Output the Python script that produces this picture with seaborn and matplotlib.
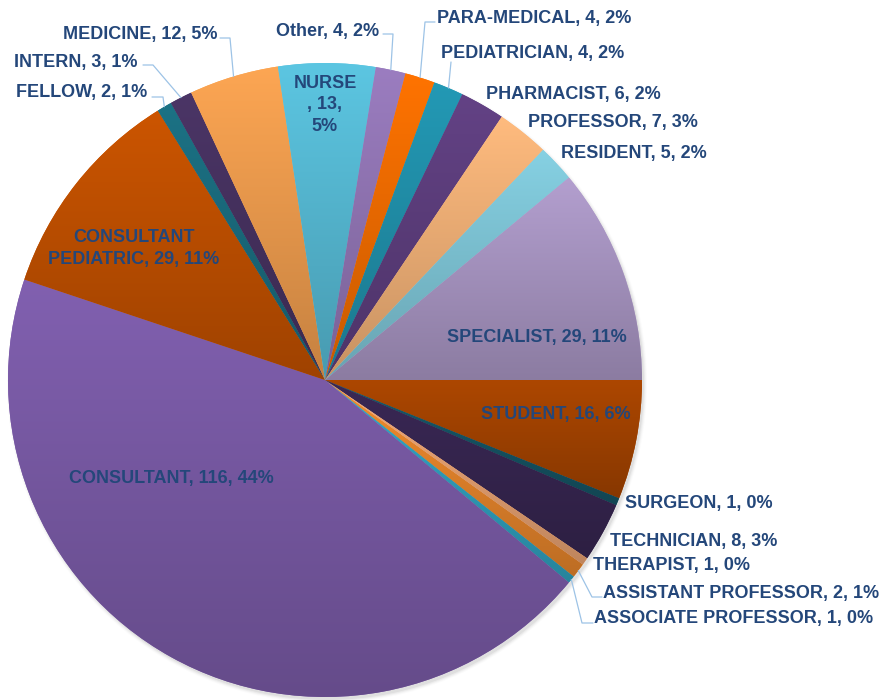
import numpy as np
import matplotlib
matplotlib.use("Agg")
import matplotlib.pyplot as plt
import matplotlib.colors as mcolors
from matplotlib.patches import Circle
import seaborn as sns

# data (clockwise, same order as the workbook)
categories = ["ASSISTANT PROFESSOR", "ASSOCIATE PROFESSOR", "CONSULTANT",
              "CONSULTANT PEDIATRIC", "FELLOW", "INTERN", "MEDICINE", "NURSE",
              "Other", "PARA-MEDICAL", "PEDIATRICIAN", "PHARMACIST", "PROFESSOR",
              "RESIDENT", "SPECIALIST", "STUDENT", "SURGEON", "TECHNICIAN",
              "THERAPIST"]
counts = [2, 1, 116, 29, 2, 3, 12, 13, 4, 4, 4, 6, 7, 5, 29, 16, 1, 8, 1]
slice_colors = ["#F28C2E", "#33A9C8", "#8160B0", "#CC5500", "#1C7285", "#4B3566",
                "#FDA653", "#5CC6E2", "#9B7DC0", "#FF7300", "#2399B5", "#634285",
                "#FFBB7E", "#86D1E3", "#B39FCF", "#AD4700", "#17596A", "#3A2855",
                "#F5AB78"]

# label placement in pixels (x, baseline y of the last line, alignment), y from the top
W, H = 886, 700
label_pos = {
    "ASSISTANT PROFESSOR": (603, 598, "left"),
    "ASSOCIATE PROFESSOR": (594, 623, "left"),
    "CONSULTANT": (171, 483, "center"),
    "CONSULTANT PEDIATRIC": (134, 264, "center"),
    "FELLOW": (147, 97, "right"),
    "INTERN": (138, 67, "right"),
    "MEDICINE": (218, 39, "right"),
    "NURSE": (325, 131, "center"),
    "Other": (379, 36, "right"),
    "PARA-MEDICAL": (437, 23, "left"),
    "PEDIATRICIAN": (441, 58, "left"),
    "PHARMACIST": (486, 99, "left"),
    "PROFESSOR": (528, 127, "left"),
    "RESIDENT": (561, 158, "left"),
    "SPECIALIST": (537, 342, "center"),
    "STUDENT": (556, 419, "center"),
    "SURGEON": (625, 508, "left"),
    "TECHNICIAN": (610, 546, "left"),
    "THERAPIST": (593, 570, "left"),
}
line_breaks = {"NURSE": "NURSE\n, {c},\n{p}%",
               "CONSULTANT PEDIATRIC": "CONSULTANT\nPEDIATRIC, {c}, {p}%"}
# leader lines: points from text to elbow, the last point is on the slice edge
leaders = {
    "MEDICINE": [(220, 38), (230, 38)],
    "INTERN": [(143, 65), (153, 65)],
    "FELLOW": [(152, 97), (163, 97)],
    "Other": [(383, 34), (393, 34)],
    "PARA-MEDICAL": [(435, 22), (425, 22)],
    "PEDIATRICIAN": [(451, 62)],
    "ASSISTANT PROFESSOR": [(602, 597), (592, 597)],
    "ASSOCIATE PROFESSOR": [(593, 623), (582, 623)],
}

sns.set_theme(style="white")
plt.rcParams["font.family"] = ["Liberation Sans", "DejaVu Sans"]


def px(x, y):
    return x, H - y


fig = plt.figure(figsize=(8.86, 7.0), dpi=100)
ax = fig.add_axes([0, 0, 1, 1])

cx, cy = px(325, 380)
R = 317
total = sum(counts)
# SPECIALIST ends at 3 o'clock
start = -360 * sum(counts[15:]) / total

# soft shadow
for k, a in enumerate([0.10, 0.07, 0.05, 0.03]):
    ax.add_patch(Circle((cx + 2, cy - 3), R + k, color="gray", alpha=a, lw=0, zorder=0))

wedges, _ = ax.pie(counts, colors=slice_colors, startangle=start, counterclock=False,
                   center=(cx, cy), radius=R, wedgeprops=dict(linewidth=0))

# vertical gradient on every slice
t = np.linspace(0, 1, 256)[:, None]
for w, col in zip(wedges, slice_colors):
    v = w.get_path().vertices
    top = np.array(mcolors.to_rgb(col))
    grad = (top * (1 - t) + top * 0.78 * t)[:, None, :]
    im = ax.imshow(grad, extent=(v[:, 0].min(), v[:, 0].max(), v[:, 1].min(), v[:, 1].max()),
                   origin="upper", aspect="auto", interpolation="bilinear", zorder=2)
    im.set_clip_path(w)

label_color = "#24477a"
for name, c, w in zip(categories, counts, wedges):
    p = round(100 * c / total)
    txt = line_breaks.get(name, "{n}, {c}, {p}%").format(n=name, c=c, p=p)
    x, y, ha = label_pos[name]
    ax.text(*px(x, y), txt, ha=ha, va="baseline", multialignment="center",
            fontsize=13, fontweight="bold", color=label_color, linespacing=1.35, zorder=5)
    if name in leaders:
        mid = np.deg2rad((w.theta1 + w.theta2) / 2)
        edge = (cx + R * np.cos(mid), cy + R * np.sin(mid))
        pts = [px(*q) for q in leaders[name]] + [edge]
        ax.plot([q[0] for q in pts], [q[1] for q in pts], color="#9DC3E6", lw=0.9, zorder=4)

ax.set_xlim(0, W)
ax.set_ylim(0, H)
ax.set_aspect("equal")
ax.axis("off")

fig.savefig("out.png", dpi=100)
